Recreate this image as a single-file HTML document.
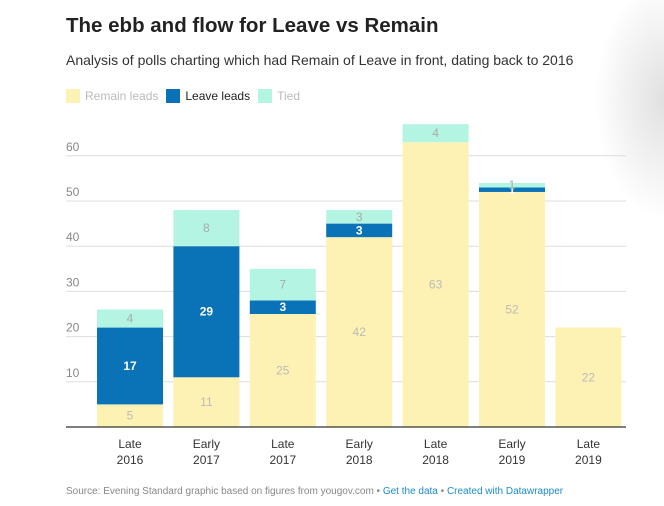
<!DOCTYPE html>
<html style="overflow:hidden;width:664px;height:506px"><head><meta charset="utf-8">
<style>
body{margin:0;width:664px;height:506px;background:#fff;font-family:"Liberation Sans",sans-serif;position:relative;overflow:hidden}
.shadow{position:absolute;right:0;top:0;width:70px;height:220px;background:radial-gradient(ellipse at 100% 45%,rgba(0,0,0,0.12),rgba(0,0,0,0) 70%)}
h1{position:absolute;left:66px;top:14px;margin:0;font-size:20.5px;font-weight:bold;color:#222}
.sub{position:absolute;left:66px;top:52px;font-size:14px;color:#333}
.legend{position:absolute;left:66px;top:89px;font-size:12px;display:flex;align-items:center}
.legend span.sw{display:inline-block;width:14px;height:14px;margin-right:5px}
.legend .it{display:flex;align-items:center;margin-right:8px}
.foot{position:absolute;left:66px;top:486px;font-size:10px;color:#888;white-space:nowrap}
.foot a{color:#1a8ccc;text-decoration:none}
svg{position:absolute;left:0;top:0}
</style></head><body>
<div class="shadow"></div>
<h1>The ebb and flow for Leave vs Remain</h1>
<div class="sub">Analysis of polls charting which had Remain of Leave in front, dating back to 2016</div>
<div class="legend">
<div class="it"><span class="sw" style="background:#fdf1b3"></span><span style="color:#bbb">Remain leads</span></div>
<div class="it"><span class="sw" style="background:#0a73b8"></span><span style="color:#222">Leave leads</span></div>
<div class="it"><span class="sw" style="background:#b3f4e2"></span><span style="color:#bbb">Tied</span></div>
</div>
<svg id="chart" width="664" height="506"></svg>
<div class="foot">Source: Evening Standard graphic based on figures from yougov.com • <a>Get the data</a> • <a>Created with Datawrapper</a></div>
<script>
const categories=[["Late","2016"],["Early","2017"],["Late","2017"],["Early","2018"],["Late","2018"],["Early","2019"],["Late","2019"]];
const remain=[5,11,25,42,63,52,22];
const leave=[17,29,3,3,0,1,0];
const tied=[4,8,7,3,4,1,0];
const yTicks=[10,20,30,40,50,60];
const svg=document.getElementById('chart');
const NS='http://www.w3.org/2000/svg';
const y0=427,pxPer=4.52,x0=92,step=76.4,bw=66;
const y=v=>y0-v*pxPer;
const xc=i=>x0+step*i+38;
function el(t,a){const e=document.createElementNS(NS,t);for(const k in a)e.setAttribute(k,a[k]);svg.appendChild(e);return e;}
yTicks.forEach(t=>{
 const g=el('line',{x1:66,x2:626,y1:y(t),y2:y(t),stroke:'#ddd','stroke-width':1});
 
 
 const l=el('text',{x:66,y:y(t)-5,'font-size':12,fill:'#888','font-family':'Liberation Sans'});l.textContent=t;
 
 
});
const series=[[remain,'#fdf1b3','#bbb','remain',''],[leave,'#0a73b8','#fff','leave','bold'],[tied,'#b3f4e2','#aaa','tied','']];
categories.forEach((c,i)=>{
 let base=0;
 series.forEach(([arr,col,tc,nm,fw])=>{
  const v=arr[i];
  if(v>0){
   const r=el('rect',{x:xc(i)-bw/2,y:y(base+v),width:bw,height:v*pxPer,fill:col});
   
   
   const t=el('text',{x:xc(i),y:y(base+v/2)+4,'font-size':12,'text-anchor':'middle',fill:tc,'font-weight':fw,'font-family':'Liberation Sans'});
   t.textContent=v;
   
   
  }
  base+=v;
 });
 c.forEach((s,k)=>{
  const t=el('text',{x:xc(i),y:448+k*16,'font-size':12,'text-anchor':'middle',fill:'#333','font-family':'Liberation Sans'});
  t.textContent=s;
  
  
 });
});
const ax=el('line',{x1:66,x2:626,y1:y0,y2:y0,stroke:'#333','stroke-width':1.2});


</script>
</body></html>
